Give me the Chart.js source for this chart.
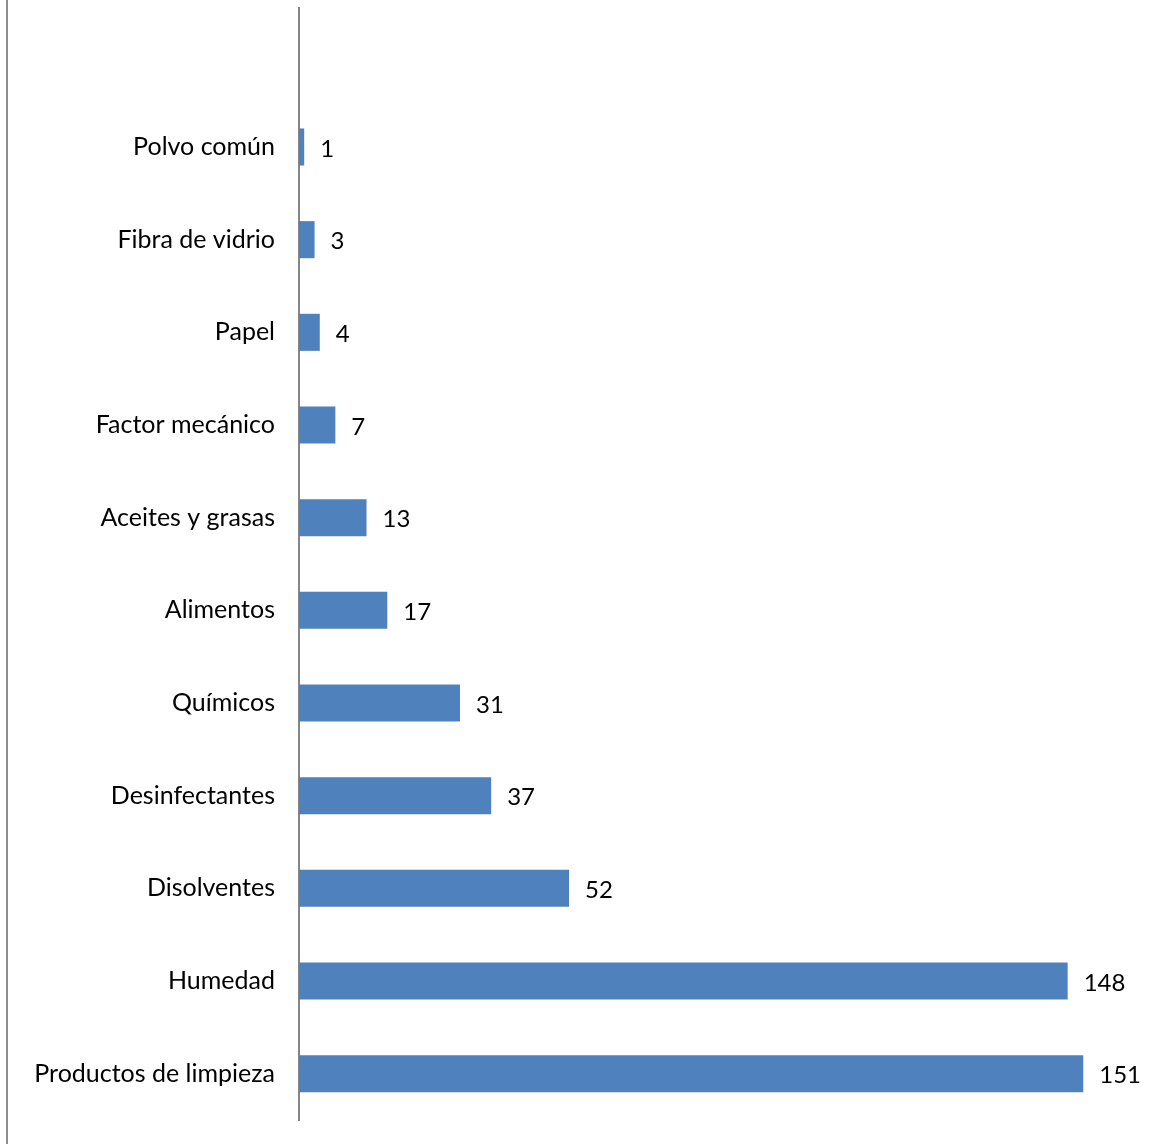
<!DOCTYPE html>
<html>
<head>
<meta charset="utf-8">
<script src="https://cdn.jsdelivr.net/npm/chart.js@4/dist/chart.umd.min.js"></script>
<style>
  body { margin: 0; background: #fff; }
  canvas { display: block; }
</style>
</head>
<body>
<canvas id="chart" width="1154" height="1144"></canvas>
<script>
// top slot is left empty, like the original
const categories = ['', 'Polvo común', 'Fibra de vidrio', 'Papel', 'Factor mecánico', 'Aceites y grasas',
  'Alimentos', 'Químicos', 'Desinfectantes', 'Disolventes', 'Humedad', 'Productos de limpieza'];
const values = [null, 1, 3, 4, 7, 13, 17, 31, 37, 52, 148, 151];
const xMax = 160;

const fontFamily = 'Lato, "Noto Sans", sans-serif';

// bar value labels
const valueLabels = {
  id: 'valueLabels',
  afterDatasetsDraw(chart) {
    const ctx = chart.ctx;
    const meta = chart.getDatasetMeta(0);
    ctx.save();
    ctx.font = '24px ' + fontFamily;
    ctx.fillStyle = '#000';
    ctx.textAlign = 'left';
    ctx.textBaseline = 'middle';
    meta.data.forEach((bar, i) => {
      if (values[i] == null) return;
      ctx.fillText(values[i], bar.x + 16, bar.y + 2);
    });
    ctx.restore();
  }
};

// left frame line
const frameLine = {
  id: 'frameLine',
  beforeDraw(chart) {
    const ctx = chart.ctx;
    ctx.save();
    ctx.strokeStyle = '#8c8c8c';
    ctx.lineWidth = 2;
    ctx.beginPath();
    ctx.moveTo(7, 0);
    ctx.lineTo(7, chart.height);
    ctx.stroke();
    ctx.restore();
  }
};

new Chart(document.getElementById('chart'), {
  type: 'bar',
  data: {
    labels: categories,
    datasets: [{
      data: values,
      backgroundColor: '#4f81bd',
      borderWidth: 0,
      barPercentage: 0.4,
      categoryPercentage: 1
    }]
  },
  options: {
    indexAxis: 'y',
    responsive: false,
    animation: false,
    layout: { padding: { top: 8, bottom: 24, right: 24, left: 0 } },
    plugins: {
      legend: { display: false },
      tooltip: { enabled: false }
    },
    scales: {
      x: {
        display: false,
        min: 0,
        max: xMax
      },
      y: {
        afterFit(scale) {
          scale.width = 299;
          scale.paddingTop = 0;
          scale.paddingBottom = 0;
        },
        grid: { display: false, drawTicks: false },
        border: { display: true, color: '#868686', width: 2 },
        ticks: {
          padding: 24,
          color: '#000',
          font: { family: fontFamily, size: 25 }
        }
      }
    }
  },
  plugins: [valueLabels, frameLine]
});
</script>
</body>
</html>
